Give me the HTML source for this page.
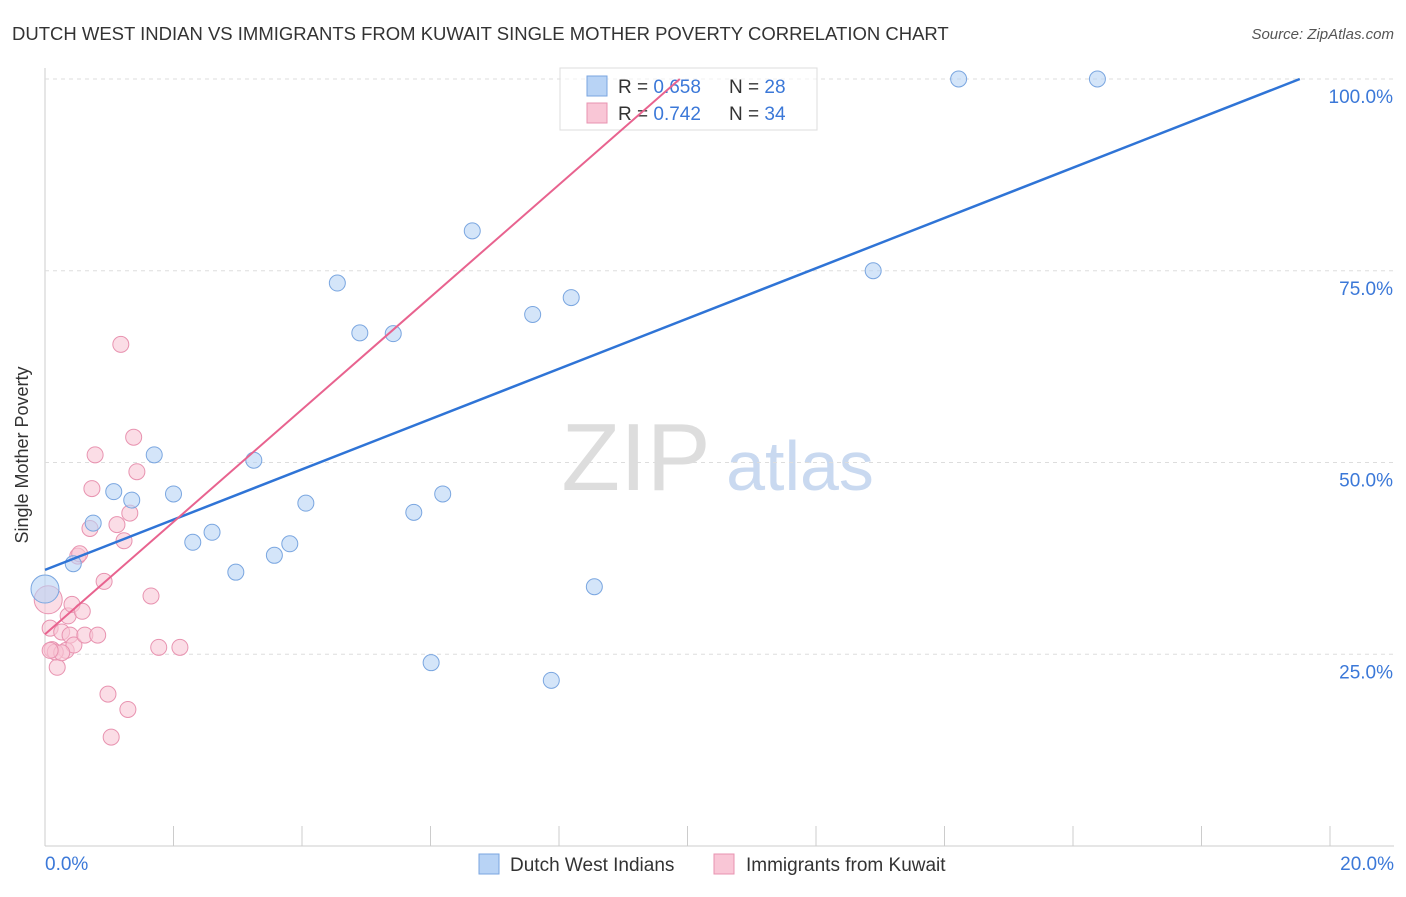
<!DOCTYPE html>
<html><head><meta charset="utf-8"><style>
body{margin:0;background:#fff;font-family:"Liberation Sans",sans-serif;}
svg text{font-family:"Liberation Sans",sans-serif;}
</style></head><body>
<svg id="chart" width="1406" height="892">
<text x="12" y="40" font-size="18.5" fill="#333">DUTCH WEST INDIAN VS IMMIGRANTS FROM KUWAIT SINGLE MOTHER POVERTY CORRELATION CHART</text>
<text x="1394" y="39" font-size="15" fill="#555" font-style="italic" text-anchor="end">Source: ZipAtlas.com</text>
<text x="28" y="455" font-size="18" fill="#333" transform="rotate(-90 28 455)" text-anchor="middle">Single Mother Poverty</text>
<text x="636" y="490" font-size="96" fill="#ddd" text-anchor="middle" font-family="Liberation Serif">ZIP</text>
<text x="800" y="490" font-size="70" fill="#c9d9f0" text-anchor="middle">atlas</text>
<g id="grid"></g><g id="pts"></g>
<g>
<rect x="560" y="68" width="257" height="62" fill="#fff" fill-opacity="0.6" stroke="#ddd"/>
<rect x="587" y="76" width="20" height="20" fill="#b8d3f5" stroke="#7aa6e0"/>
<text x="618" y="93" font-size="19" fill="#333">R = <tspan fill="#3b78d8">0.658</tspan></text>
<text x="729" y="93" font-size="19" fill="#333">N = <tspan fill="#3b78d8">28</tspan></text>
<rect x="587" y="103" width="20" height="20" fill="#f9c6d6" stroke="#e893b0"/>
<text x="618" y="120" font-size="19" fill="#333">R = <tspan fill="#3b78d8">0.742</tspan></text>
<text x="729" y="120" font-size="19" fill="#333">N = <tspan fill="#3b78d8">34</tspan></text>
</g>
<g id="lines"></g>
<g>
<rect x="479" y="854" width="20" height="20" fill="#b8d3f5" stroke="#7aa6e0"/>
<text x="510" y="871" font-size="19" fill="#333">Dutch West Indians</text>
<rect x="714" y="854" width="20" height="20" fill="#f9c6d6" stroke="#e893b0"/>
<text x="746" y="871" font-size="19" fill="#333">Immigrants from Kuwait</text>
</g>
</svg>
<script>
const blueX=[0.0,0.44,0.75,1.07,1.35,1.70,2.0,2.30,2.60,2.97,3.25,3.57,3.81,4.06,4.55,4.90,5.42,5.74,6.01,6.19,6.65,7.59,7.88,8.19,8.55,12.89,14.22,16.38];
const blueY=[33.5,36.8,42.1,46.2,45.1,51.0,45.9,39.6,40.9,35.7,50.3,37.9,39.4,44.7,73.4,66.9,66.8,43.5,23.9,45.9,80.2,69.3,21.6,71.5,33.8,75.0,100,100];
const pinkX=[0.05,0.08,0.11,0.19,0.26,0.33,0.36,0.39,0.42,0.45,0.51,0.54,0.58,0.62,0.70,0.73,0.78,0.82,0.92,0.98,1.03,1.12,1.18,1.23,1.29,1.32,1.38,1.43,1.65,1.77,2.10,0.16,0.26,0.08];
const pinkY=[32.1,28.4,25.6,23.3,27.9,25.5,30.0,27.5,31.5,26.2,37.8,38.1,30.6,27.5,41.4,46.6,51.0,27.5,34.5,19.8,14.2,41.9,65.4,39.8,17.8,43.4,53.3,48.8,32.6,25.9,25.9,25.3,25.2,25.5];
const blueTrend=[0,36.0,19.53,100];
const pinkTrend=[0,27.6,9.88,100];
const xTicks=[0,2,4,6,8,10,12,14,16,18,20];
const yTicks=[25,50,75,100];
const X=v=>45+v/20*1285, Y=v=>846-v/100*767;
const ns="http://www.w3.org/2000/svg";
function mk(t,a,p){const e=document.createElementNS(ns,t);for(const k in a)e.setAttribute(k,a[k]);p.appendChild(e);return e;}
const g=document.getElementById('grid'),L=document.getElementById('lines'),P=document.getElementById('pts');
mk('line',{x1:45,y1:68,x2:45,y2:846,stroke:'#ccc'},g);
mk('line',{x1:45,y1:846,x2:1394,y2:846,stroke:'#ccc'},g);
yTicks.forEach(t=>{const l=mk('line',{x1:45,y1:Y(t),x2:1394,y2:Y(t),stroke:'#ddd','stroke-dasharray':'4,4'},g);


const tx=mk('text',{x:1393,y:Y(t)+24,'font-size':19,fill:'#3b78d8','text-anchor':'end'},g);tx.textContent=t.toFixed(1)+'%';

});
xTicks.forEach(t=>{const l=mk('line',{x1:X(t),y1:826,x2:X(t),y2:846,stroke:'#ccc'},g);

});
[[0,'start',45],[20,'end',1394]].forEach(([v,a,x])=>{const tx=mk('text',{x:x,y:870,'font-size':19,fill:'#3b78d8','text-anchor':a},g);tx.textContent=v.toFixed(1)+'%';

});
function pts(xs,ys,fill,stroke,name){xs.forEach((x,i)=>{const r=i==0?14:8;const c=mk('circle',{cx:X(x),cy:Y(ys[i]),r:r,fill:fill,stroke:stroke,'stroke-width':1,'fill-opacity':0.6},P);

});}
pts(pinkX,pinkY,'#f9c6d6','#e893b0','kuwait-point');
pts(blueX,blueY,'#b8d3f5','#7aa6e0','dutch-west-indian-point');
let b=mk('line',{x1:X(blueTrend[0]),y1:Y(blueTrend[1]),x2:X(blueTrend[2]),y2:Y(blueTrend[3]),stroke:'#2f74d6','stroke-width':2.5},L);


let p=mk('line',{x1:X(pinkTrend[0]),y1:Y(pinkTrend[1]),x2:X(pinkTrend[2]),y2:Y(pinkTrend[3]),stroke:'#e8638f','stroke-width':2},L);


</script>
</body></html>
